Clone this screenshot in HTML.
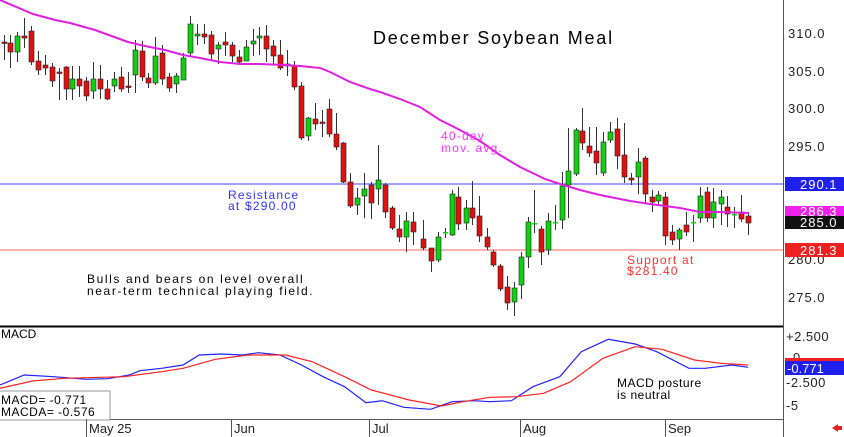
<!DOCTYPE html>
<html><head><meta charset="utf-8"><style>
html,body{margin:0;padding:0;background:#fff;}
svg{display:block;font-family:"Liberation Sans",sans-serif;}
</style></head><body>
<svg id="s" width="844" height="437" viewBox="0 0 844 437" xmlns="http://www.w3.org/2000/svg">
<rect width="844" height="437" fill="#fff"/>
<line x1="0" y1="184" x2="783" y2="184" stroke="#4040ff" stroke-width="1"/>
<line x1="0" y1="250" x2="783" y2="250" stroke="#ff6060" stroke-width="1"/>
<g id="c"></g>
<polyline fill="none" stroke="#e020e0" stroke-width="2" points="0,0 33,14 55,20 70,23 95,30 128,42 145,46 165,50 183,55 200,58 220,62 240,64 260,64 285,65 300,66 320,68 330,72 350,82 370,89 380,92 400,99 420,107 440,120 460,130 480,141 500,155 520,167 545,179 560,184 580,190 600,195 630,201 650,204 680,208 700,212 720,212 749,213"/>
<text x="373" y="44" font-size="18" letter-spacing="1.8">December Soybean Meal</text>
<text x="228" y="199" font-size="12" fill="#3030ff" letter-spacing="1.2">Resistance</text>
<text x="228" y="210" font-size="12" fill="#3030ff" letter-spacing="1.2">at $290.00</text>
<text x="441" y="140" font-size="12" fill="#ff30ff" letter-spacing="1.2">40-day</text>
<text x="441" y="152" font-size="12" fill="#ff30ff" letter-spacing="1.2">mov. avg.</text>
<text x="627" y="264" font-size="12" fill="#ff3030" letter-spacing="1.2">Support at</text>
<text x="627" y="275" font-size="12" fill="#ff3030" letter-spacing="1.2">$281.40</text>
<text x="87" y="283" font-size="12" letter-spacing="1.6">Bulls and bears on level overall</text>
<text x="87" y="295" font-size="12" letter-spacing="1.6">near-term technical playing field.</text>
<line x1="0" y1="326.5" x2="783" y2="326.5" stroke="#000" stroke-width="2"/>
<line x1="0" y1="419.5" x2="783" y2="419.5" stroke="#555" stroke-width="1"/>
<line x1="783.5" y1="0" x2="783.5" y2="437" stroke="#555" stroke-width="1"/>
<g font-size="13" fill="#222" letter-spacing="1">
<text x="788" y="38">310.0</text><text x="788" y="76">305.0</text><text x="788" y="113">300.0</text><text x="788" y="151">295.0</text><text x="788" y="264">280.0</text><text x="788" y="302">275.0</text>
</g>
<rect x="785" y="177" width="59" height="14" fill="#2020ee"/><text x="800" y="189" font-size="13" fill="#fff" letter-spacing="1">290.1</text>
<rect x="785" y="206" width="59" height="10" fill="#ee20ee"/><text x="800" y="216" font-size="13" fill="#fff" letter-spacing="1">286.3</text>
<rect x="785" y="216" width="59" height="13" fill="#111"/><text x="800" y="227" font-size="13" fill="#fff" letter-spacing="1">285.0</text>
<rect x="785" y="243" width="59" height="14" fill="#ee2020"/><text x="800" y="255" font-size="13" fill="#fff" letter-spacing="1">281.3</text>
<text x="1" y="338" font-size="12">MACD</text>
<polyline fill="none" stroke="#2020ff" stroke-width="1.2" id="bl"/>
<polyline fill="none" stroke="#ff2020" stroke-width="1.2" id="rl"/>
<text x="617" y="387" font-size="12" letter-spacing="0.5">MACD posture</text>
<text x="617" y="399" font-size="12" letter-spacing="0.5">is neutral</text>
<rect x="-1" y="391" width="111" height="29" fill="#fff" stroke="#999"/>
<text x="1" y="404" font-size="12" letter-spacing="0.5">MACD=   -0.771</text>
<text x="1" y="416" font-size="12" letter-spacing="0.5">MACDA= -0.576</text>
<g font-size="13" fill="#222" letter-spacing="0.5">
<text x="786" y="341">+2.500</text><text x="793" y="362">0</text><text x="786" y="387">-2.500</text><text x="786" y="410">-5</text>
</g>
<rect x="785" y="358" width="59" height="3" fill="#ee2020"/>
<rect x="785" y="361" width="59" height="14" fill="#2020ee"/><text x="787" y="373" font-size="13" fill="#fff">-0.771</text>
<g stroke="#555"><line x1="86.5" y1="419" x2="86.5" y2="437"/><line x1="231.5" y1="419" x2="231.5" y2="437"/><line x1="369.5" y1="419" x2="369.5" y2="437"/><line x1="520.5" y1="419" x2="520.5" y2="437"/><line x1="665.5" y1="419" x2="665.5" y2="437"/></g>
<g font-size="13" fill="#222"><text x="89" y="433">May 25</text><text x="234" y="433">Jun</text><text x="372" y="433">Jul</text><text x="523" y="433">Aug</text><text x="668" y="433">Sep</text></g>
<polygon points="832,428 838,424 838,432" fill="#e02020"/><rect x="837" y="426" width="5" height="4" fill="#e02020"/>
</svg>
<script>
var A=[[4,42,43,35,60],[10,43,52,35,68],[17,52,36,32,62],[24,36,38,18,48],[31,31,62,26,65],[38,61,70,51,75],[45,65,68,55,75],[52,67,81,63,87],[59,72,73,68,100],[66,67,89,66,100],[72,89,79,66,100],[79,79,86,66,97],[86,81,96,77,101],[93,91,79,62,99],[100,79,89,65,99],[107,89,99,80,100],[114,86,79,72,92],[121,77,89,67,92],[128,86,87,72,93],[135,75,50,40,93],[142,51,77,41,81],[148,78,83,73,88],[155,83,56,37,85],[162,53,79,45,85],[169,77,88,73,92],[176,84,76,73,93],[183,80,58,53,80],[190,53,24,16,57],[197,36,34,24,45],[204,34,37,24,44],[211,35,54,31,60],[218,49,45,42,64],[225,42,45,32,56],[232,45,56,42,62],[239,57,62,50,65],[246,61,47,40,61],[253,44,41,29,56],[259,38,36,27,55],[266,36,49,25,62],[273,46,56,40,65],[280,55,68,40,70],[287,66,64,50,76],[294,66,87,61,90],[301,86,138,82,140],[308,136,118,117,141],[315,119,124,103,130],[322,122,123,110,137],[329,109,134,99,137],[336,134,147,113,150],[343,143,182,142,183],[350,182,206,173,208],[357,205,198,188,215],[364,196,189,173,218],[371,185,203,182,219],[378,189,180,145,205],[385,185,212,183,218],[392,208,228,206,230],[399,229,237,215,242],[406,237,221,212,252],[413,222,232,212,245]];
var B=[[10,239,248,220,250],[33,248,261,248,272],[53,260,237,232,262],[75,232,232,228,238],[95,235,194,190,236],[115,197,224,187,230],[137,223,208,200,230],[157,208,218,181,225],[178,216,236,196,242],[200,237,247,228,250],[220,252,265,250,267],[240,266,289,264,291],[262,287,303,276,310],[283,302,288,282,316],[303,285,257,252,299],[323,257,222,217,268],[343,223,223,190,233],[363,229,252,226,265],[385,250,221,213,255],[405,222,222,205,230],[425,220,186,172,229],[445,185,171,128,218],[467,174,130,128,176],[487,131,143,108,150],[508,146,153,127,157],[527,151,163,127,175],[549,173,142,132,176],[570,140,132,122,143],[590,129,156,118,169],[612,155,177,123,183],[632,178,180,173,185],[654,177,162,148,194],[674,158,194,156,203],[695,197,202,190,212],[715,201,195,191,205],[736,197,236,192,245],[757,232,240,225,245],[777,239,230,228,250],[797,225,232,212,236],[818,222,222,215,242],[839,218,196,187,223],[860,192,218,187,222],[880,218,202,188,228],[902,204,197,190,225],[922,207,214,196,227],[943,214,214,207,228],[963,212,219,195,222],[984,216,223,214,235]];
B.forEach(function(b){A.push([420+b[0]/3,b[1],b[2],b[3],b[4]]);});
var h='';
A.forEach(function(c){var x=Math.round(c[0]),o=c[1],cl=c[2];
h+='<line x1="'+(x+.5)+'" y1="'+c[3]+'" x2="'+(x+.5)+'" y2="'+c[4]+'" stroke="#333" stroke-width="1"/>';
var t=Math.min(o,cl),bh=Math.max(Math.abs(o-cl),1.5),col=cl<o?'#10d010':'#e01010';
if(Math.abs(o-cl)<1){col=cl<=o?'#10d010':'#e01010';h+='<rect x="'+(x-2)+'" y="'+t+'" width="5" height="1.5" fill="'+col+'"/>';}
else h+='<rect x="'+(x-2)+'" y="'+t+'" width="5" height="'+bh+'" fill="'+col+'" stroke="#222" stroke-width="0.6"/>';});
document.getElementById('c').innerHTML=h;
function P(a){return a.map(function(p){return (p[0]*844/1568).toFixed(1)+','+(320+p[1]/3).toFixed(1)}).join(' ');}
document.getElementById('bl').setAttribute('points',P([[0,195],[45,165],[100,170],[160,178],[200,176],[240,165],[260,152],[300,145],[340,135],[370,105],[410,102],[450,105],[480,98],[520,105],[560,135],[600,170],[640,200],[680,248],[710,242],[750,262],[800,268],[840,245],[880,242],[910,245],[950,242],[990,200],[1040,170],[1080,95],[1130,58],[1180,72],[1220,95],[1280,145],[1310,145],[1360,135],[1390,142]]));
document.getElementById('rl').setAttribute('points',P([[0,205],[60,183],[120,175],[230,170],[300,155],[340,145],[400,118],[460,105],[530,105],[580,125],[640,170],[690,210],[760,240],[820,258],[860,245],[910,232],[960,230],[1010,220],[1060,185],[1120,115],[1180,80],[1230,88],[1290,120],[1340,130],[1390,135]]));
</script>
</body></html>
